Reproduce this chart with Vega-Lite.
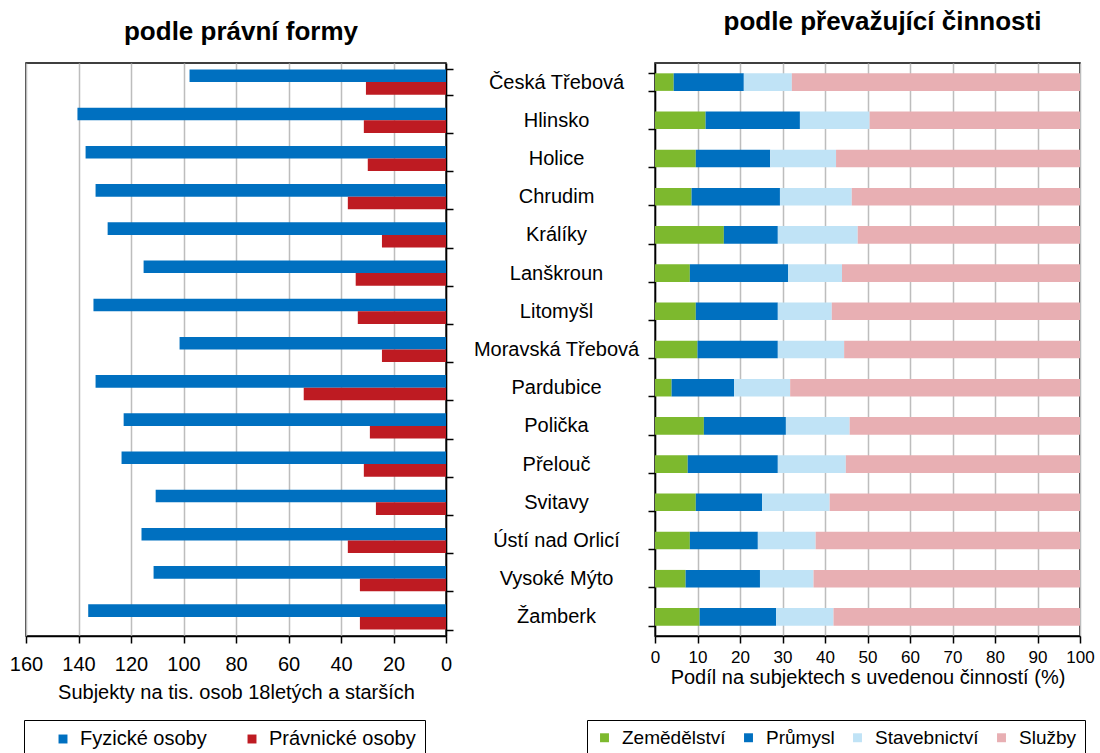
{
  "$schema": "https://vega.github.io/schema/vega-lite/v6.json",
  "padding": {"left": 8, "top": 8, "right": 5, "bottom": 0},
  "background": "white",
  "config": {
    "font": "Liberation Sans",
    "view": {"stroke": "#000000", "strokeWidth": 1.5},
    "axis": {
      "labelFont": "Liberation Sans",
      "titleFont": "Liberation Sans",
      "labelColor": "#000000",
      "titleColor": "#000000",
      "titleFontWeight": "normal",
      "domainColor": "#000000",
      "domainWidth": 1.5,
      "tickColor": "#000000",
      "tickWidth": 1.5,
      "gridColor": "#BDBDBD",
      "gridWidth": 1.5
    },
    "legend": {"labelFont": "Liberation Sans", "labelColor": "#000000"},
    "title": {"font": "Liberation Sans", "color": "#000000"}
  },
  "datasets": {
    "forma": [
      {"mesto": "Česká Třebová", "typ": "Fyzické osoby", "hodnota": 97.7},
      {"mesto": "Česká Třebová", "typ": "Právnické osoby", "hodnota": 30.5},
      {"mesto": "Hlinsko", "typ": "Fyzické osoby", "hodnota": 140.4},
      {"mesto": "Hlinsko", "typ": "Právnické osoby", "hodnota": 31.3},
      {"mesto": "Holice", "typ": "Fyzické osoby", "hodnota": 137.3},
      {"mesto": "Holice", "typ": "Právnické osoby", "hodnota": 29.8},
      {"mesto": "Chrudim", "typ": "Fyzické osoby", "hodnota": 133.5},
      {"mesto": "Chrudim", "typ": "Právnické osoby", "hodnota": 37.4},
      {"mesto": "Králíky", "typ": "Fyzické osoby", "hodnota": 128.9},
      {"mesto": "Králíky", "typ": "Právnické osoby", "hodnota": 24.4},
      {"mesto": "Lanškroun", "typ": "Fyzické osoby", "hodnota": 115.2},
      {"mesto": "Lanškroun", "typ": "Právnické osoby", "hodnota": 34.4},
      {"mesto": "Litomyšl", "typ": "Fyzické osoby", "hodnota": 134.3},
      {"mesto": "Litomyšl", "typ": "Právnické osoby", "hodnota": 33.6},
      {"mesto": "Moravská Třebová", "typ": "Fyzické osoby", "hodnota": 101.5},
      {"mesto": "Moravská Třebová", "typ": "Právnické osoby", "hodnota": 24.4},
      {"mesto": "Pardubice", "typ": "Fyzické osoby", "hodnota": 133.5},
      {"mesto": "Pardubice", "typ": "Právnické osoby", "hodnota": 54.2},
      {"mesto": "Polička", "typ": "Fyzické osoby", "hodnota": 122.8},
      {"mesto": "Polička", "typ": "Právnické osoby", "hodnota": 29.0},
      {"mesto": "Přelouč", "typ": "Fyzické osoby", "hodnota": 123.6},
      {"mesto": "Přelouč", "typ": "Právnické osoby", "hodnota": 31.3},
      {"mesto": "Svitavy", "typ": "Fyzické osoby", "hodnota": 110.6},
      {"mesto": "Svitavy", "typ": "Právnické osoby", "hodnota": 26.7},
      {"mesto": "Ústí nad Orlicí", "typ": "Fyzické osoby", "hodnota": 116.0},
      {"mesto": "Ústí nad Orlicí", "typ": "Právnické osoby", "hodnota": 37.4},
      {"mesto": "Vysoké Mýto", "typ": "Fyzické osoby", "hodnota": 111.4},
      {"mesto": "Vysoké Mýto", "typ": "Právnické osoby", "hodnota": 32.8},
      {"mesto": "Žamberk", "typ": "Fyzické osoby", "hodnota": 136.3},
      {"mesto": "Žamberk", "typ": "Právnické osoby", "hodnota": 32.8}
    ],
    "cinnost": [
      {"mesto": "Česká Třebová", "odvetvi": "Zemědělství", "podil": 4.4},
      {"mesto": "Česká Třebová", "odvetvi": "Průmysl", "podil": 16.5},
      {"mesto": "Česká Třebová", "odvetvi": "Stavebnictví", "podil": 11.3},
      {"mesto": "Česká Třebová", "odvetvi": "Služby", "podil": 67.8},
      {"mesto": "Hlinsko", "odvetvi": "Zemědělství", "podil": 11.9},
      {"mesto": "Hlinsko", "odvetvi": "Průmysl", "podil": 22.2},
      {"mesto": "Hlinsko", "odvetvi": "Stavebnictví", "podil": 16.4},
      {"mesto": "Hlinsko", "odvetvi": "Služby", "podil": 49.5},
      {"mesto": "Holice", "odvetvi": "Zemědělství", "podil": 9.6},
      {"mesto": "Holice", "odvetvi": "Průmysl", "podil": 17.5},
      {"mesto": "Holice", "odvetvi": "Stavebnictví", "podil": 15.5},
      {"mesto": "Holice", "odvetvi": "Služby", "podil": 57.4},
      {"mesto": "Chrudim", "odvetvi": "Zemědělství", "podil": 8.6},
      {"mesto": "Chrudim", "odvetvi": "Průmysl", "podil": 20.8},
      {"mesto": "Chrudim", "odvetvi": "Stavebnictví", "podil": 16.9},
      {"mesto": "Chrudim", "odvetvi": "Služby", "podil": 53.7},
      {"mesto": "Králíky", "odvetvi": "Zemědělství", "podil": 16.2},
      {"mesto": "Králíky", "odvetvi": "Průmysl", "podil": 12.7},
      {"mesto": "Králíky", "odvetvi": "Stavebnictví", "podil": 18.8},
      {"mesto": "Králíky", "odvetvi": "Služby", "podil": 52.3},
      {"mesto": "Lanškroun", "odvetvi": "Zemědělství", "podil": 8.2},
      {"mesto": "Lanškroun", "odvetvi": "Průmysl", "podil": 23.1},
      {"mesto": "Lanškroun", "odvetvi": "Stavebnictví", "podil": 12.7},
      {"mesto": "Lanškroun", "odvetvi": "Služby", "podil": 56.0},
      {"mesto": "Litomyšl", "odvetvi": "Zemědělství", "podil": 9.6},
      {"mesto": "Litomyšl", "odvetvi": "Průmysl", "podil": 19.3},
      {"mesto": "Litomyšl", "odvetvi": "Stavebnictví", "podil": 12.7},
      {"mesto": "Litomyšl", "odvetvi": "Služby", "podil": 58.4},
      {"mesto": "Moravská Třebová", "odvetvi": "Zemědělství", "podil": 10.0},
      {"mesto": "Moravská Třebová", "odvetvi": "Průmysl", "podil": 18.9},
      {"mesto": "Moravská Třebová", "odvetvi": "Stavebnictví", "podil": 15.6},
      {"mesto": "Moravská Třebová", "odvetvi": "Služby", "podil": 55.5},
      {"mesto": "Pardubice", "odvetvi": "Zemědělství", "podil": 3.9},
      {"mesto": "Pardubice", "odvetvi": "Průmysl", "podil": 14.7},
      {"mesto": "Pardubice", "odvetvi": "Stavebnictví", "podil": 13.2},
      {"mesto": "Pardubice", "odvetvi": "Služby", "podil": 68.2},
      {"mesto": "Polička", "odvetvi": "Zemědělství", "podil": 11.5},
      {"mesto": "Polička", "odvetvi": "Průmysl", "podil": 19.3},
      {"mesto": "Polička", "odvetvi": "Stavebnictví", "podil": 15.0},
      {"mesto": "Polička", "odvetvi": "Služby", "podil": 54.2},
      {"mesto": "Přelouč", "odvetvi": "Zemědělství", "podil": 7.7},
      {"mesto": "Přelouč", "odvetvi": "Průmysl", "podil": 21.2},
      {"mesto": "Přelouč", "odvetvi": "Stavebnictví", "podil": 16.0},
      {"mesto": "Přelouč", "odvetvi": "Služby", "podil": 55.1},
      {"mesto": "Svitavy", "odvetvi": "Zemědělství", "podil": 9.6},
      {"mesto": "Svitavy", "odvetvi": "Průmysl", "podil": 15.6},
      {"mesto": "Svitavy", "odvetvi": "Stavebnictví", "podil": 15.9},
      {"mesto": "Svitavy", "odvetvi": "Služby", "podil": 58.9},
      {"mesto": "Ústí nad Orlicí", "odvetvi": "Zemědělství", "podil": 8.2},
      {"mesto": "Ústí nad Orlicí", "odvetvi": "Průmysl", "podil": 16.0},
      {"mesto": "Ústí nad Orlicí", "odvetvi": "Stavebnictví", "podil": 13.6},
      {"mesto": "Ústí nad Orlicí", "odvetvi": "Služby", "podil": 62.2},
      {"mesto": "Vysoké Mýto", "odvetvi": "Zemědělství", "podil": 7.2},
      {"mesto": "Vysoké Mýto", "odvetvi": "Průmysl", "podil": 17.5},
      {"mesto": "Vysoké Mýto", "odvetvi": "Stavebnictví", "podil": 12.6},
      {"mesto": "Vysoké Mýto", "odvetvi": "Služby", "podil": 62.7},
      {"mesto": "Žamberk", "odvetvi": "Zemědělství", "podil": 10.5},
      {"mesto": "Žamberk", "odvetvi": "Průmysl", "podil": 18.0},
      {"mesto": "Žamberk", "odvetvi": "Stavebnictví", "podil": 13.5},
      {"mesto": "Žamberk", "odvetvi": "Služby", "podil": 58.0}
    ]
  },
  "bounds": "flush",
  "spacing": 209,
  "resolve": {"scale": {"color": "independent", "y": "independent"}, "legend": {"color": "independent"}},
  "hconcat": [
    {
      "width": 420,
      "height": 573,
      "title": {"text": "podle právní formy", "fontSize": 26, "fontWeight": "bold", "anchor": "middle", "offset": 18, "dx": 5},
      "data": {"name": "forma"},
      "mark": {"type": "bar"},
      "encoding": {
        "y": {
          "field": "mesto", "type": "nominal",
          "sort": ["Česká Třebová", "Hlinsko", "Holice", "Chrudim", "Králíky", "Lanškroun", "Litomyšl", "Moravská Třebová", "Pardubice", "Polička", "Přelouč", "Svitavy", "Ústí nad Orlicí", "Vysoké Mýto", "Žamberk"],
          "scale": {"paddingInner": 0.34, "paddingOuter": 0.17},
          "axis": {"orient": "right", "labels": false, "title": null, "tickBand": "extent", "tickSize": 7, "grid": false}
        },
        "yOffset": {"field": "typ", "type": "nominal", "sort": ["Fyzické osoby", "Právnické osoby"]},
        "x": {
          "field": "hodnota", "type": "quantitative",
          "scale": {"domain": [0, 160], "reverse": true, "nice": false},
          "axis": {"values": [0, 20, 40, 60, 80, 100, 120, 140, 160], "title": "Subjekty na tis. osob 18letých a starších", "grid": true, "tickSize": 7, "labelFontSize": 20, "labelPadding": 11, "titleFontSize": 20, "titlePadding": 8, "labelFlush": false}
        },
        "color": {
          "field": "typ", "type": "nominal",
          "sort": ["Fyzické osoby", "Právnické osoby"],
          "scale": {"domain": ["Fyzické osoby", "Právnické osoby"], "range": ["#0070C0", "#BE1B22"]},
          "legend": {"orient": "none", "legendX": -2, "legendY": 657, "direction": "horizontal", "title": null, "strokeColor": "#000000", "padding": 9, "symbolType": "square", "symbolSize": 80, "symbolStrokeWidth": 0, "labelFontSize": 20, "labelOffset": 7, "columnPadding": 15, "symbolOffset": 20}
        }
      }
    },
    {
      "width": 425,
      "height": 573,
      "title": {"text": "podle převažující činnosti", "fontSize": 26, "fontWeight": "bold", "anchor": "middle", "offset": 18, "dx": 15},
      "data": {"name": "cinnost"},
      "mark": {"type": "bar"},
      "encoding": {
        "y": {
          "field": "mesto", "type": "nominal",
          "sort": ["Česká Třebová", "Hlinsko", "Holice", "Chrudim", "Králíky", "Lanškroun", "Litomyšl", "Moravská Třebová", "Pardubice", "Polička", "Přelouč", "Svitavy", "Ústí nad Orlicí", "Vysoké Mýto", "Žamberk"],
          "scale": {"paddingInner": 0.54, "paddingOuter": 0.27},
          "axis": {"orient": "left", "title": null, "tickBand": "extent", "tickSize": 7, "labelAlign": "center", "labelPadding": 92, "labelFontSize": 20, "labelLimit": 300, "grid": false}
        },
        "x": {
          "field": "podil", "type": "quantitative", "stack": "zero",
          "scale": {"domain": [0, 100], "nice": false},
          "axis": {"values": [0, 10, 20, 30, 40, 50, 60, 70, 80, 90, 100], "title": "Podíl  na subjektech s uvedenou činností (%)", "grid": true, "tickSize": 7, "labelFontSize": 17, "labelPadding": 6, "titleFontSize": 20, "titlePadding": 2, "labelFlush": false}
        },
        "color": {
          "field": "odvetvi", "type": "nominal",
          "sort": ["Zemědělství", "Průmysl", "Stavebnictví", "Služby"],
          "scale": {"domain": ["Zemědělství", "Průmysl", "Stavebnictví", "Služby"], "range": ["#7DB92E", "#0070C0", "#C0E3F6", "#E8AFB3"]},
          "legend": {"orient": "none", "legendX": -68, "legendY": 657, "direction": "horizontal", "title": null, "strokeColor": "#000000", "padding": 8, "symbolType": "square", "symbolSize": 80, "symbolStrokeWidth": 0, "labelFontSize": 19, "labelOffset": 8, "columnPadding": 13}
        },
        "order": {"field": "color_odvetvi_sort_index", "type": "quantitative"}
      }
    }
  ]
}
